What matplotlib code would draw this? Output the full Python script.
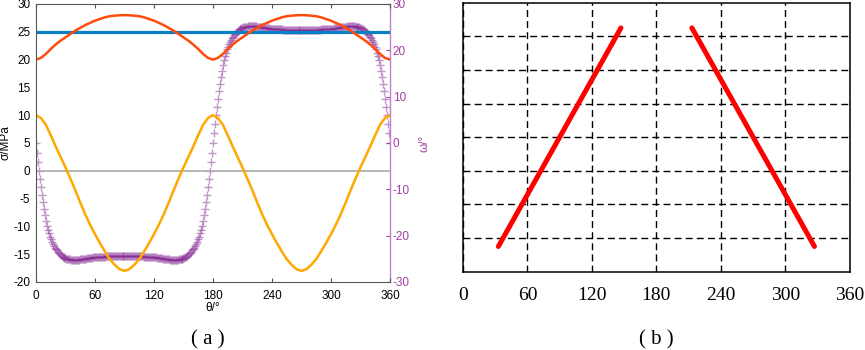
import numpy as np
import matplotlib
matplotlib.use('Agg')
import matplotlib.pyplot as plt

plt.rcParams['axes.unicode_minus'] = False
plt.rcParams['font.family'] = ['Liberation Sans', 'DejaVu Sans']

# ---- panel (a) data ----
theta = np.arange(0, 361, 5)
sigma_1 = [20.0, 20.3, 21.0, 21.9, 22.7, 23.4, 24.0, 24.6, 25.2, 25.7,
           26.2, 26.6, 27.0, 27.3, 27.6, 27.8, 27.9, 27.97, 28.0,
           27.97, 27.9, 27.8, 27.6, 27.3, 27.0, 26.6, 26.2, 25.7, 25.2,
           24.6, 24.0, 23.4, 22.7, 21.9, 21.0, 20.3, 20.0,
           20.3, 21.0, 21.9, 22.7, 23.4, 24.0, 24.6, 25.2, 25.7,
           26.2, 26.6, 27.0, 27.3, 27.6, 27.8, 27.9, 27.97, 28.0,
           27.97, 27.9, 27.8, 27.6, 27.3, 27.0, 26.6, 26.2, 25.7, 25.2,
           24.6, 24.0, 23.4, 22.7, 21.9, 21.0, 20.3, 20.0]
sigma_3 = [10.0, 9.5, 8.3, 6.4, 4.4, 2.5, 0.6, -1.4, -3.5, -5.7,
           -7.8, -9.7, -11.4, -13.0, -14.5, -15.9, -16.9, -17.7, -18.0,
           -17.7, -16.9, -15.9, -14.5, -13.0, -11.4, -9.7, -7.8, -5.7, -3.5,
           -1.4, 0.6, 2.5, 4.4, 6.4, 8.3, 9.5, 10.0,
           9.5, 8.3, 6.4, 4.4, 2.5, 0.6, -1.4, -3.5, -5.7,
           -7.8, -9.7, -11.4, -13.0, -14.5, -15.9, -16.9, -17.7, -18.0,
           -17.7, -16.9, -15.9, -14.5, -13.0, -11.4, -9.7, -7.8, -5.7, -3.5,
           -1.4, 0.6, 2.5, 4.4, 6.4, 8.3, 9.5, 10.0]
strength = 25.0

# omega, one value per degree, 0..360
theta_w = np.arange(0, 361, 1)
omega = [
    0, -2.2, -4.2, -6.1, -7.8, -9.6, -11.3, -12.8, -14.2, -15.6,
    -16.8, -17.9, -18.8, -19.5, -20.2, -20.8, -21.3, -21.8, -22.2, -22.6,
    -22.9, -23.2, -23.5, -23.8, -24.0, -24.2, -24.4, -24.55, -24.7, -24.8,
    -24.9, -24.95, -25.0, -25.05, -25.1, -25.12, -25.15, -25.18, -25.2, -25.2,
    -25.2, -25.2, -25.2, -25.18, -25.15, -25.12, -25.1, -25.07, -25.05, -25.02,
    -25.0, -24.95, -24.9, -24.87, -24.85, -24.82, -24.8, -24.75, -24.7, -24.67,
    -24.65, -24.62, -24.6, -24.6, -24.6, -24.57, -24.55, -24.52, -24.5, -24.5,
    -24.5, -24.47, -24.45, -24.45, -24.45, -24.42, -24.4, -24.4, -24.4, -24.4,
    -24.4, -24.4, -24.4, -24.4, -24.4, -24.4, -24.4, -24.4, -24.4, -24.4,
    -24.4, -24.4, -24.4, -24.4, -24.4, -24.4, -24.4, -24.4, -24.4, -24.4,
    -24.4, -24.4, -24.4, -24.4, -24.4, -24.42, -24.45, -24.45, -24.45, -24.47,
    -24.5, -24.5, -24.5, -24.52, -24.55, -24.57, -24.6, -24.6, -24.6, -24.62,
    -24.65, -24.67, -24.7, -24.75, -24.8, -24.82, -24.85, -24.87, -24.9, -24.95,
    -25.0, -25.02, -25.05, -25.07, -25.1, -25.12, -25.15, -25.18, -25.2, -25.2,
    -25.2, -25.2, -25.2, -25.18, -25.15, -25.12, -25.1, -25.05, -25.0, -24.95,
    -24.9, -24.8, -24.7, -24.55, -24.4, -24.2, -24.0, -23.8, -23.5, -23.2,
    -22.9, -22.6, -22.2, -21.8, -21.3, -20.8, -20.2, -19.5, -18.8, -17.9,
    -16.8, -15.6, -14.2, -12.8, -11.3, -9.6, -7.8, -6.1, -4.2, -2.2,
    0, 2.2, 4.2, 6.1, 7.8, 9.6, 11.3, 12.8, 14.2, 15.6,
    16.8, 17.9, 18.8, 19.5, 20.2, 20.8, 21.3, 21.8, 22.2, 22.6,
    22.9, 23.2, 23.5, 23.8, 24.0, 24.2, 24.4, 24.55, 24.7, 24.8,
    24.9, 24.95, 25.0, 25.05, 25.1, 25.12, 25.15, 25.18, 25.2, 25.2,
    25.2, 25.2, 25.2, 25.18, 25.15, 25.12, 25.1, 25.07, 25.05, 25.02,
    25.0, 24.95, 24.9, 24.87, 24.85, 24.82, 24.8, 24.75, 24.7, 24.67,
    24.65, 24.62, 24.6, 24.6, 24.6, 24.57, 24.55, 24.52, 24.5, 24.5,
    24.5, 24.47, 24.45, 24.45, 24.45, 24.42, 24.4, 24.4, 24.4, 24.4,
    24.4, 24.4, 24.4, 24.4, 24.4, 24.4, 24.4, 24.4, 24.4, 24.4,
    24.4, 24.4, 24.4, 24.4, 24.4, 24.4, 24.4, 24.4, 24.4, 24.4,
    24.4, 24.4, 24.4, 24.4, 24.4, 24.42, 24.45, 24.45, 24.45, 24.47,
    24.5, 24.5, 24.5, 24.52, 24.55, 24.57, 24.6, 24.6, 24.6, 24.62,
    24.65, 24.67, 24.7, 24.75, 24.8, 24.82, 24.85, 24.87, 24.9, 24.95,
    25.0, 25.02, 25.05, 25.07, 25.1, 25.12, 25.15, 25.18, 25.2, 25.2,
    25.2, 25.2, 25.2, 25.18, 25.15, 25.12, 25.1, 25.05, 25.0, 24.95,
    24.9, 24.8, 24.7, 24.55, 24.4, 24.2, 24.0, 23.8, 23.5, 23.2,
    22.9, 22.6, 22.2, 21.8, 21.3, 20.8, 20.2, 19.5, 18.8, 17.9,
    16.8, 15.6, 14.2, 12.8, 11.3, 9.6, 7.8, 6.1, 4.2, 2.2,
    0]

# ---- panel (b) data ----
line1_theta = [33, 147]
line1_y = [0.75, 7.25]
line2_theta = [213, 327]
line2_y = [7.25, 0.75]

fig = plt.figure(figsize=(8.65, 3.5), dpi=100)

# (a)
ax = fig.add_axes([0.0416, 0.1943, 0.4092, 0.7943])
ax2 = ax.twinx()
ax2.set_zorder(1)
ax.set_zorder(2)
ax.patch.set_visible(False)

ax2.plot(theta_w, omega, ls='none', marker='+', ms=5.5, mew=1.0,
         color='#862d96', alpha=0.5)
ax.axhline(0, color='#b0b0b0', lw=1.3)
ax.plot(theta, sigma_3, color='#ffa800', lw=1.8)
ax.axhline(strength, color='#0a80c4', lw=2.3)
ax.plot(theta, sigma_1, color='#ff4c0c', lw=1.8)

ax.set_xlim(0, 360)
ax.set_ylim(-20, 30)
ax2.set_ylim(-30, 30)
ax.set_xticks(range(0, 361, 60))
ax.set_yticks(range(-20, 31, 5))
ax2.set_yticks(range(-30, 31, 10))
ax.tick_params(direction='in', top=True, length=3, width=0.8, color='#555555',
               labelsize=8.5, pad=3)
ax.tick_params(axis='y', length=0, pad=4)
ax.tick_params(axis='x', pad=6)
ax2.tick_params(direction='in', length=3, width=0.8, colors='#a040a0',
                labelsize=8.5, pad=2)
for s in ['left', 'bottom', 'top']:
    ax.spines[s].set_color('#555555')
    ax.spines[s].set_linewidth(0.8)
    ax2.spines[s].set_visible(False)
ax.spines['right'].set_visible(False)
ax2.spines['right'].set_color('#c080d0')
ax2.spines['right'].set_linewidth(1.0)

ax.set_ylabel('σ/MPa', fontsize=8.5)
ax.yaxis.set_label_coords(-0.068, 0.5)
ax.set_xlabel('θ/°', fontsize=8.5)
ax.xaxis.set_label_coords(0.5, -0.072)
ax2.set_ylabel('ω/°', fontsize=8.5, color='#a040a0')
ax2.yaxis.set_label_coords(1.08, 0.5)

# (b)
bx = fig.add_axes([0.5351, 0.2237, 0.4475, 0.7686])
bx.plot(line1_theta, line1_y, color='#ff0000', lw=3.6, solid_capstyle='round')
bx.plot(line2_theta, line2_y, color='#ff0000', lw=3.6, solid_capstyle='round')
bx.set_xlim(0, 360)
bx.set_ylim(0, 8)
bx.set_xticks(range(0, 361, 60))
bx.set_yticks(range(1, 8))
bx.set_yticklabels([])
bx.grid(True, color='black', ls=(0, (5, 3)), lw=1.0)
bx.set_axisbelow(True)
bx.tick_params(length=0, labelsize=14, pad=11)
for lab in bx.get_xticklabels():
    lab.set_fontfamily('Liberation Serif')
for s in bx.spines.values():
    s.set_color('black')
    s.set_linewidth(1.1)

# panel captions
fig.text(208 / 865, 1 - 340 / 350, '( a )', ha='center', va='center',
         fontsize=15, family='Liberation Serif')
fig.text(656 / 865, 1 - 340 / 350, '( b )', ha='center', va='center',
         fontsize=15, family='Liberation Serif')

fig.savefig('out.png', dpi=100)
